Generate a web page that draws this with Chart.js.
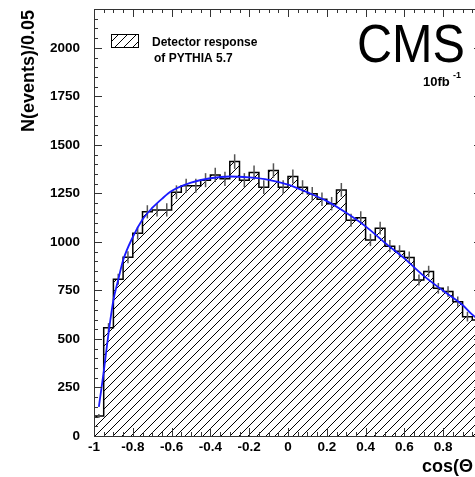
<!DOCTYPE html>
<html>
<head>
<meta charset="utf-8">
<script src="https://cdn.jsdelivr.net/npm/chart.js@4.4.0/dist/chart.umd.min.js"></script>
<style>
html, body { margin: 0; padding: 0; background: #fff; overflow: hidden; }
#chart { display: block; }
</style>
</head>
<body>
<canvas id="chart" width="500" height="477"></canvas>
<script>
const ctx = document.querySelector('#chart');

// histogram: lower edge of each cos(theta*) bin, bins are 0.05 wide
const binLow = [-1, -0.95, -0.9, -0.85, -0.8, -0.75, -0.7, -0.65, -0.6, -0.55,
    -0.5, -0.45, -0.4, -0.35, -0.3, -0.25, -0.2, -0.15, -0.1, -0.05,
    0, 0.05, 0.1, 0.15, 0.2, 0.25, 0.3, 0.35, 0.4, 0.45,
    0.5, 0.55, 0.6, 0.65, 0.7, 0.75, 0.8, 0.85, 0.9, 0.95];
const binWidth = 0.05;
const counts = [103, 558, 808, 921, 1045, 1155, 1165, 1165, 1256, 1289,
    1289, 1318, 1345, 1325, 1414, 1318, 1357, 1282, 1368, 1282,
    1337, 1282, 1248, 1220, 1197, 1268, 1112, 1124, 1010, 1071,
    978, 952, 920, 804, 848, 761, 744, 692, 615, 598];

// blue fit curve
const fitX = [-0.975, -0.95, -0.925, -0.9, -0.875, -0.85, -0.8, -0.75, -0.7, -0.65,
    -0.6, -0.5, -0.4, -0.3, -0.2, -0.1, 0, 0.1, 0.2, 0.3,
    0.4, 0.5, 0.6, 0.7, 0.8, 0.9, 0.95, 1.0];
const fitY = [150, 330, 530, 700, 805, 905, 1025, 1115, 1175, 1222,
    1262, 1305, 1328, 1337, 1332, 1320, 1295, 1255, 1210, 1150,
    1080, 995, 915, 825, 748, 675, 625, 585];

const xTicks = [-1, -0.8, -0.6, -0.4, -0.2, 0, 0.2, 0.4, 0.6, 0.8, 1];
const yTicks = [0, 250, 500, 750, 1000, 1250, 1500, 1750, 2000];

const FONT = '"Liberation Sans", Arial, sans-serif';

function makeHatch(){
    const s = 9;
    const c = document.createElement('canvas');
    c.width = s; c.height = s;
    const g = c.getContext('2d');
    g.strokeStyle = '#000';
    g.lineWidth = 1;
    g.beginPath();
    g.moveTo(0, s); g.lineTo(s, 0);
    g.moveTo(-1, 1); g.lineTo(1, -1);
    g.moveTo(s - 1, s + 1); g.lineTo(s + 1, s - 1);
    g.stroke();
    return ctx.getContext('2d').createPattern(c, 'repeat');
}
const hatch = makeHatch();

let histData = binLow.map((x, i) => ({x: x, y: counts[i]}));
histData.push({x: binLow[binLow.length - 1] + binWidth, y: counts[counts.length - 1]});

// ROOT-like frame, inward ticks, error bars and labels
const rootStyle = {
    id: 'rootStyle',
    afterDatasetDraw(chart, args){
        if(args.index !== 1) return;
        const g = chart.ctx, x = chart.scales.x, y = chart.scales.y;
        g.save();
        g.strokeStyle = '#555';
        g.lineWidth = 1.5;
        counts.forEach((n, i) => {
            const px = x.getPixelForValue(binLow[i] + binWidth / 2);
            const e = Math.sqrt(n);
            g.beginPath();
            g.moveTo(px, y.getPixelForValue(n - e));
            g.lineTo(px, y.getPixelForValue(n + e));
            g.stroke();
        });
        g.restore();
    },
    afterDraw(chart){
        const g = chart.ctx, a = chart.chartArea;
        const x = chart.scales.x, y = chart.scales.y;
        g.save();
        g.strokeStyle = '#333';
        g.lineWidth = 1;
        g.strokeRect(a.left + 0.5, a.top + 0.5, a.right - a.left, a.bottom - a.top);

        g.beginPath();
        for(let k = 0; k <= 40; k++){
            const v = -1 + k * 0.05;
            const px = Math.round(x.getPixelForValue(v)) + 0.5;
            const len = (k % 4 === 0) ? 8 : 4;
            g.moveTo(px, a.bottom); g.lineTo(px, a.bottom - len);
            g.moveTo(px, a.top); g.lineTo(px, a.top + len);
        }
        for(let k = 0; k <= 44; k++){
            const v = k * 50;
            const py = Math.round(y.getPixelForValue(v)) + 0.5;
            const len = (k % 5 === 0) ? 8 : 4;
            g.moveTo(a.left, py); g.lineTo(a.left + len, py);
            g.moveTo(a.right, py); g.lineTo(a.right - len, py);
        }
        g.stroke();

        // legend
        g.fillStyle = hatch;
        g.fillRect(111, 34, 27, 13);
        g.strokeStyle = '#000';
        g.strokeRect(111.5, 34.5, 27, 13);
        g.fillStyle = '#000';
        g.textBaseline = 'alphabetic';
        g.textAlign = 'left';
        g.font = 'bold 12px ' + FONT;
        g.fillText('Detector response', 152, 46);
        g.fillText('of PYTHIA 5.7', 154, 62);

        // CMS label
        g.font = '53px ' + FONT;
        g.fillText('CMS', 357, 62, 108);
        g.font = 'bold 13px ' + FONT;
        g.fillText('10fb', 423, 86);
        g.font = 'bold 9px ' + FONT;
        g.fillText('-1', 453, 78);

        // axis titles
        g.font = 'bold 18px ' + FONT;
        g.fillText('cos(\u0398', 422, 472);
        g.font = 'bold 12px ' + FONT;
        g.fillText('*', 476, 462);
        g.font = 'bold 18px ' + FONT;
        g.fillText(')', 484, 472);

        g.translate(34, 10);
        g.rotate(-Math.PI / 2);
        g.textAlign = 'right';
        g.font = 'bold 18px ' + FONT;
        g.fillText('N(events)/0.05', 0, 0);
        g.restore();
    }
};

new Chart(ctx, {
    type: 'line',
    data: {
        datasets: [{
            label: 'fit',
            data: fitX.map((x, i) => ({x: x, y: fitY[i]})),
            borderColor: '#1a1aff',
            borderWidth: 1.8,
            pointRadius: 0,
            cubicInterpolationMode: 'monotone',
            fill: false
        }, {
            label: 'Detector response of PYTHIA 5.7',
            data: histData,
            stepped: 'before',
            borderColor: '#000',
            borderWidth: 1.5,
            backgroundColor: hatch,
            pointRadius: 0,
            fill: 'origin'
        }]
    },
    options: {
        responsive: false,
        animation: false,
        events: [],
        layout: {padding: {top: 9, right: 18, left: 0, bottom: 0}},
        plugins: {
            legend: {display: false},
            tooltip: {enabled: false}
        },
        scales: {
            x: {
                type: 'linear',
                min: -1,
                max: 1,
                grid: {display: false, drawTicks: false},
                border: {display: false},
                afterBuildTicks: (s) => { s.ticks = xTicks.map(v => ({value: v})); },
                afterFit: (s) => { s.height = 41; s.paddingLeft = 0; s.paddingRight = 0; },
                ticks: {
                    padding: 3,
                    maxRotation: 0,
                    autoSkip: false,
                    color: '#000',
                    callback: (v) => String(v),
                    font: {family: FONT, size: 13.5, weight: 'bold'}
                }
            },
            y: {
                type: 'linear',
                min: 0,
                max: 2200,
                grid: {display: false, drawTicks: false},
                border: {display: false},
                afterBuildTicks: (s) => { s.ticks = yTicks.map(v => ({value: v})); },
                afterFit: (s) => { s.width = 94; s.paddingTop = 0; s.paddingBottom = 0; },
                ticks: {
                    padding: 14,
                    color: '#000',
                    callback: (v) => String(v),
                    font: {family: FONT, size: 13.5, weight: 'bold'}
                }
            }
        }
    },
    plugins: [rootStyle]
});
</script>
</body>
</html>
